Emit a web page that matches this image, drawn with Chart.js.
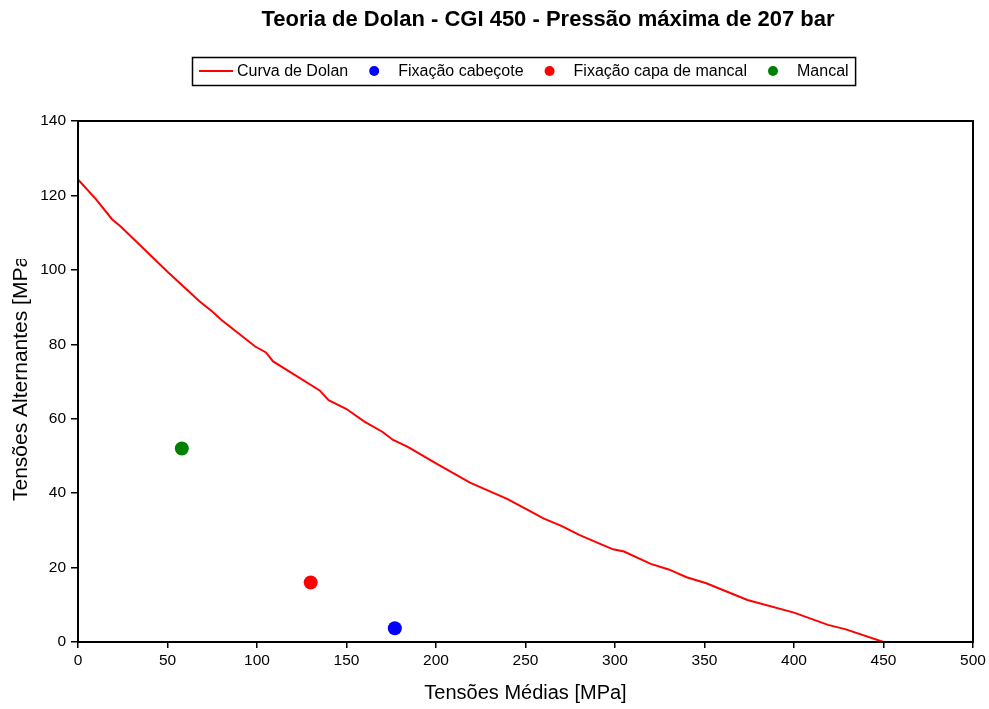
<!DOCTYPE html>
<html lang="pt">
<head>
<meta charset="utf-8">
<title>Teoria de Dolan - CGI 450</title>
<script src="https://cdn.jsdelivr.net/npm/chart.js@4"></script>
<style>
    html, body { margin: 0; padding: 0; background: #fff; }
    #wrap { width: 989px; height: 709px; position: relative; }
</style>
</head>
<body>
<div id="wrap"><canvas id="chart"></canvas></div>
<script>
// Curva de Dolan (tensão média x tensão alternante, MPa)
const dolanMedia = [0, 10, 19, 24, 50, 68, 75, 80, 99, 105, 109, 135, 140, 150, 160, 170, 176, 184, 200, 219, 240, 252, 260, 270, 280, 292, 299, 305, 320, 330, 340, 351, 374, 400, 419, 429, 450];
const dolanAlternante = [124.3, 119, 113.6, 111.6, 99.5, 91.5, 88.8, 86.6, 79.4, 77.8, 75.4, 67.6, 65, 62.6, 59.2, 56.5, 54.3, 52.5, 48, 42.8, 38.4, 35.3, 33.2, 31.2, 28.8, 26.3, 24.9, 24.3, 21, 19.5, 17.4, 15.8, 11.3, 7.9, 4.6, 3.4, 0];

// Pontos avaliados
const pontoNomes = ['Fixação cabeçote', 'Fixação capa de mancal', 'Mancal'];
const pontoMedia = [177, 130, 58];
const pontoAlternante = [3.7, 16, 52];

const xTicks = [0, 50, 100, 150, 200, 250, 300, 350, 400, 450, 500];
const yTicks = [0, 20, 40, 60, 80, 100, 120, 140];

const chartTitle = 'Teoria de Dolan - CGI 450 - Pressão máxima de 207 bar';
const xTitle = 'Tensões Médias [MPa]';
const yTitle = 'Tensões Alternantes [MPa]';

const FONT = 'Arial, "Liberation Sans", sans-serif';
const pointColors = ['#0000ff', '#ff0000', '#008000'];

const datasets = [{
    type: 'line',
    label: 'Curva de Dolan',
    data: dolanMedia.map((x, i) => ({ x: x, y: dolanAlternante[i] })),
    borderColor: '#ff0000',
    borderWidth: 2,
    pointRadius: 0,
    tension: 0,
    fill: false
}];
pontoNomes.forEach((nome, i) => {
    datasets.push({
        type: 'scatter',
        label: nome,
        data: [{ x: pontoMedia[i], y: pontoAlternante[i] }],
        backgroundColor: pointColors[i],
        borderColor: pointColors[i],
        pointRadius: 7,
        pointHoverRadius: 7,
        borderWidth: 0
    });
});

// Title, boxed legend, clipped y title and plot frame
const decorations = {
    id: 'decorations',
    afterDraw(chart) {
        const ctx = chart.ctx;
        const area = chart.chartArea;
        ctx.save();

        // plot frame
        ctx.strokeStyle = '#000';
        ctx.lineWidth = 2;
        ctx.strokeRect(area.left, area.top, area.right - area.left, area.bottom - area.top);

        // title
        ctx.fillStyle = '#000';
        ctx.font = 'bold 22px ' + FONT;
        ctx.textAlign = 'center';
        ctx.textBaseline = 'middle';
        ctx.fillText(chartTitle, 548, 20);

        // legend
        ctx.font = '16px ' + FONT;
        ctx.textAlign = 'left';
        const ly = 71;
        let x = 199;
        chart.data.datasets.forEach(ds => {
            if (ds.type === 'line') {
                ctx.strokeStyle = ds.borderColor;
                ctx.lineWidth = 2;
                ctx.beginPath();
                ctx.moveTo(x, ly);
                ctx.lineTo(x + 34, ly);
                ctx.stroke();
                x += 38;
            } else {
                x += 26;
                ctx.fillStyle = ds.backgroundColor;
                ctx.beginPath();
                ctx.arc(x, ly, 5, 0, Math.PI * 2);
                ctx.fill();
                x += 24;
            }
            ctx.fillStyle = '#000';
            ctx.fillText(ds.label, x, ly + 1);
            x += ctx.measureText(ds.label).width;
        });
        ctx.strokeStyle = '#000';
        ctx.lineWidth = 1.5;
        ctx.strokeRect(192.5, 57.5, x + 7 - 192.5, 28);

        // y axis title, cut off at the top
        ctx.beginPath();
        ctx.rect(0, 259, 60, 709 - 259);
        ctx.clip();
        ctx.translate(21, 501);
        ctx.rotate(-Math.PI / 2);
        ctx.font = '21px ' + FONT;
        ctx.textAlign = 'left';
        ctx.fillStyle = '#000';
        ctx.fillText(yTitle, 0, 0);
        ctx.restore();
    }
};

new Chart(document.getElementById('chart'), {
    data: { datasets: datasets },
    options: {
        responsive: true,
        maintainAspectRatio: false,
        animation: false,
        events: [],
        layout: { padding: { top: 121, right: 16, left: 0, bottom: 0 } },
        plugins: {
            legend: { display: false },
            title: { display: false },
            tooltip: { enabled: false }
        },
        scales: {
            x: {
                type: 'linear',
                min: 0,
                max: 500,
                afterBuildTicks: scale => { scale.ticks = xTicks.map(v => ({ value: v })); },
                afterFit: scale => { scale.height = 67; },
                border: { display: false },
                grid: { drawOnChartArea: false, color: '#000', tickLength: 6, lineWidth: 1.5 },
                ticks: { color: '#000', font: { family: FONT, size: 15.5 }, padding: 3, maxRotation: 0 },
                title: { display: true, text: xTitle, color: '#000', font: { family: FONT, size: 20 }, padding: { top: 6 } }
            },
            y: {
                type: 'linear',
                min: 0,
                max: 140,
                afterBuildTicks: scale => { scale.ticks = yTicks.map(v => ({ value: v })); },
                afterFit: scale => { scale.width = 78; },
                border: { display: false },
                grid: { drawOnChartArea: false, color: '#000', tickLength: 7, lineWidth: 1.5 },
                ticks: { color: '#000', font: { family: FONT, size: 15.5 }, padding: 5 }
            }
        }
    },
    plugins: [decorations]
});
</script>
</body>
</html>
